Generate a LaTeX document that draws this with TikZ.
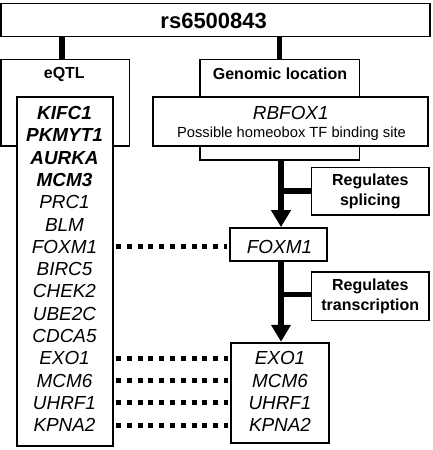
\documentclass[tikz,border=0pt]{standalone}
\usepackage{fontspec}
\setmainfont{Liberation Sans}
\usetikzlibrary{arrows.meta}
\begin{document}
\begin{tikzpicture}[x=1pt,y=-1pt,
  box/.style={draw, fill=white, inner sep=0pt, line width=1.2pt},
  heavybox/.style={box, line width=2.3pt},
  midbox/.style={box, line width=1.9pt},
  lbl/.style={font=\fontsize{16}{19.5}\selectfont\bfseries, align=center, inner sep=0pt},
  gene/.style={font=\fontsize{18.9}{22}\selectfont\itshape, inner sep=0pt},
  boldgene/.style={font=\fontsize{18.9}{22}\selectfont\bfseries\itshape, inner sep=0pt},
  link/.style={line width=5.5pt},
  arr/.style={link, -{Triangle[width=19pt,length=17pt]}},
  dots/.style={line width=5pt, dash pattern=on 5pt off 5.8pt},
]
\useasboundingbox (0,0) rectangle (432,450);

% outer boxes
\node[box, minimum width=429pt, minimum height=33.4pt] (top) at (215.5,20) {};
\node[lbl, font=\fontsize{22}{25}\selectfont\bfseries] (title) at (213.7,20.5) {rs6500843};
\node[box, minimum width=128.3pt, minimum height=86.7pt] (eqtl) at (65.2,102.65) {};
\node[lbl] (eqtltxt) at (64.3,74) {eQTL};
\node[box, minimum width=159.3pt, minimum height=100.7pt] (genomic) at (279.7,109.65) {};
\node[lbl] (gentxt) at (280,74) {Genomic location};

% inner boxes
\node[heavybox, minimum width=96.6pt, minimum height=349.3pt] (list) at (65,271.35) {};
\node[heavybox, minimum width=275.6pt, minimum height=49pt] (rbfox) at (290.5,121.2) {};
\node[gene, anchor=base] (rbtxt) at (290.8,119.3) {RBFOX1};
\node[inner sep=0pt, font=\fontsize{14.7}{17}\selectfont, anchor=base] (tfsite) at (291.5,137.8) {Possible homeobox TF binding site};

\node[box, lbl, minimum width=117.3pt, minimum height=47.7pt] (splice) at (370.3,191.2) {Regulates\\splicing};
\node[midbox, minimum width=96.7pt, minimum height=32.7pt] (foxbox) at (278.3,244.4) {};
\node[gene] (foxtxt) at (279.5,246.7) {FOXM1};
\node[box, lbl, minimum width=117.3pt, minimum height=48.7pt] (trans) at (370.3,296.3) {Regulates\\transcription};
\node[midbox, minimum width=98.6pt, minimum height=100.6pt] (lowbox) at (280,393) {};

% gene list
\foreach \g [count=\i] in {KIFC1,PKMYT1,AURKA,MCM3}
  \node[boldgene] (g\i) at (64.5,{113+22.3*(\i-1)}) {\g};
\foreach \g [count=\i from 5] in {PRC1,BLM,FOXM1,BIRC5,CHEK2,UBE2C,CDCA5,EXO1,MCM6,UHRF1,KPNA2}
  \node[gene] (g\i) at (64.5,{113+22.3*(\i-1)}) {\g};

% lower box genes
\foreach \g [count=\i] in {EXO1,MCM6,UHRF1,KPNA2}
  \node[gene] (l\i) at (280,{113+22.3*(\i+10)}) {\g};

% connectors
\coordinate (c1) at (62,0);
\coordinate (sp) at (281,0);
\draw[link] (top.south -| c1) -- (eqtl.north -| c1);
\draw[link] (top.south -| genomic.north) -- (genomic.north);
\draw[arr] (genomic.south -| sp) -- (foxbox.north -| sp);
\draw[link] (splice.west -| sp) -- (splice.west);
\draw[arr] (foxbox.south -| sp) -- (lowbox.north -| sp);
\draw[link] ([yshift=2pt]trans.west -| sp) -- ([yshift=2pt]trans.west);

% dotted links
\draw[dots, shorten <=1.5pt, shorten >=2pt] (list.east |- g7) -- (foxbox.west |- g7);
\foreach \i/\j in {12/1,13/2,14/3,15/4}
  \draw[dots, shorten <=1.5pt, shorten >=2pt] (list.east |- g\i) -- (lowbox.west |- l\j);
\end{tikzpicture}
\end{document}
